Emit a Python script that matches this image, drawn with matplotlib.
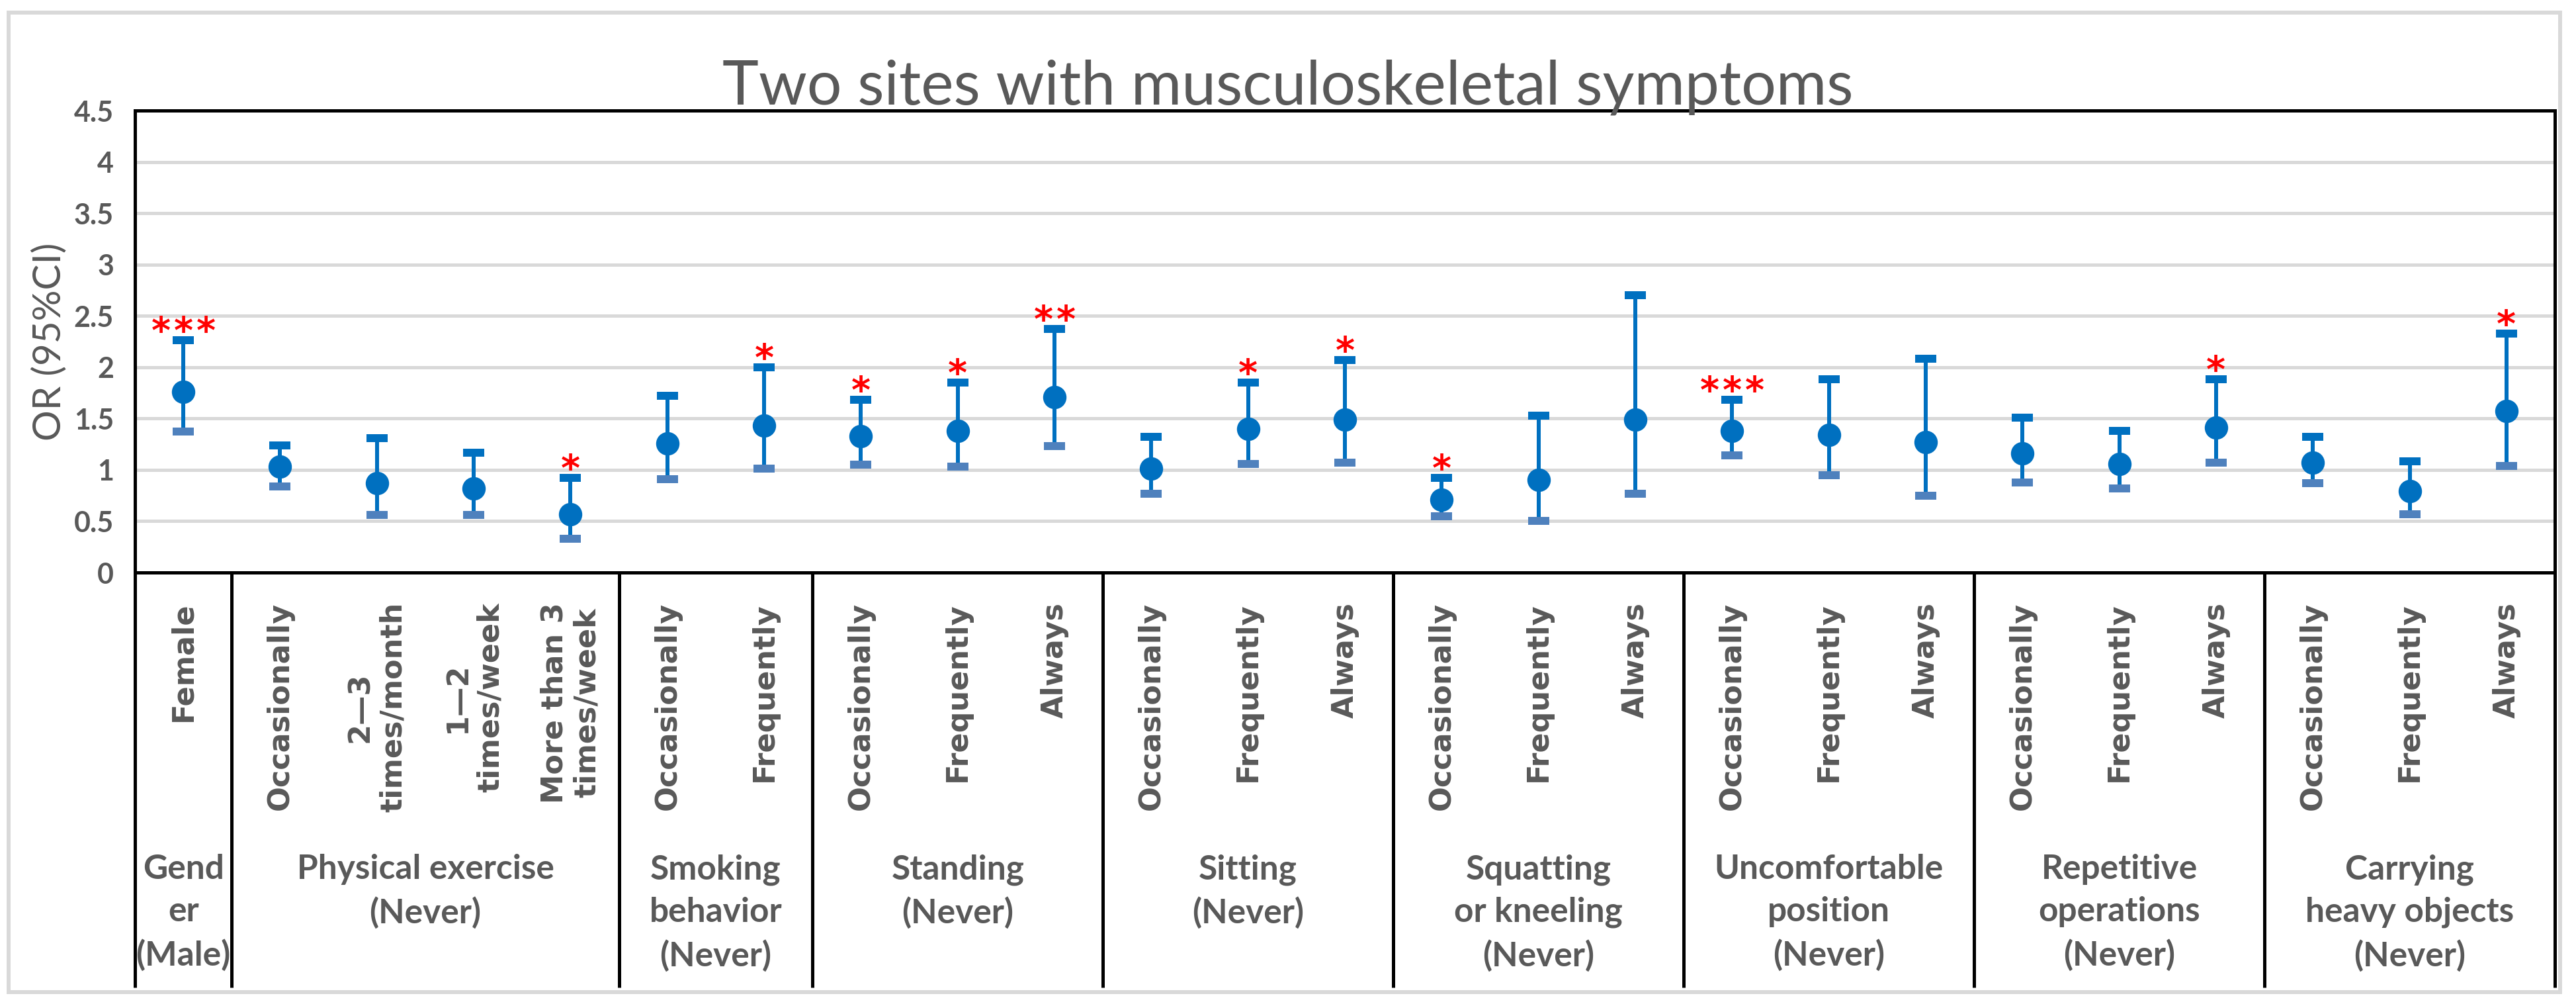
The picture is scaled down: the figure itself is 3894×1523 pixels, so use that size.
import numpy as np
import matplotlib
matplotlib.use("Agg")
import matplotlib.pyplot as plt
from matplotlib.patches import Rectangle
from matplotlib.ticker import FuncFormatter

# --- data ---
categories = ["Female",
              "Occasionally", "2—3\ntimes/month", "1—2\ntimes/week", "More than 3\ntimes/week",
              "Occasionally", "Frequently",
              "Occasionally", "Frequently", "Always",
              "Occasionally", "Frequently", "Always",
              "Occasionally", "Frequently", "Always",
              "Occasionally", "Frequently", "Always",
              "Occasionally", "Frequently", "Always",
              "Occasionally", "Frequently", "Always"]

groups = ["Gend\ner\n(Male)", "Physical exercise\n(Never)", "Smoking\nbehavior\n(Never)",
          "Standing\n(Never)", "Sitting\n(Never)", "Squatting\nor kneeling\n(Never)",
          "Uncomfortable\nposition\n(Never)", "Repetitive\noperations\n(Never)",
          "Carrying\nheavy objects\n(Never)"]
group_sizes = [1, 4, 2, 3, 3, 3, 3, 3, 3]

odds_ratio = [1.76, 1.03, 0.87, 0.82, 0.57, 1.26, 1.43, 1.33, 1.38, 1.71, 1.01, 1.40, 1.49,
              0.71, 0.90, 1.49, 1.38, 1.34, 1.27, 1.16, 1.06, 1.41, 1.07, 0.79, 1.57]
ci_upper = [2.26, 1.24, 1.31, 1.17, 0.92, 1.72, 2.00, 1.68, 1.85, 2.37, 1.32, 1.85, 2.07,
            0.92, 1.53, 2.70, 1.68, 1.88, 2.08, 1.51, 1.38, 1.88, 1.32, 1.08, 2.33]
ci_lower = [1.37, 0.84, 0.56, 0.56, 0.33, 0.91, 1.01, 1.05, 1.03, 1.23, 0.77, 1.06, 1.07,
            0.55, 0.50, 0.77, 1.14, 0.95, 0.75, 0.88, 0.82, 1.07, 0.87, 0.57, 1.04]
signif = ["***", "", "", "", "*", "", "*", "*", "*", "**", "", "*", "*",
          "*", "", "", "***", "", "", "", "", "*", "", "", "*"]

y_ticks = [0, 0.5, 1, 1.5, 2, 2.5, 3, 3.5, 4, 4.5]

# --- style ---
BLUE = "#0070C0"
BLUE_LOW = "#4F81BD"
GRAY_TXT = "#595959"
GRID = "#D9D9D9"
PX = 0.72  # points per pixel at dpi 100
W, H = 3894, 1523

fig = plt.figure(figsize=(W / 100, H / 100), dpi=100)
ax = fig.add_axes([204 / W, 1 - 865 / H, 3658 / W, 698 / H])

x = np.arange(len(categories)) + 0.5
orr = np.array(odds_ratio)
up = np.array(ci_upper)
lo = np.array(ci_lower)

ax.errorbar(x, orr, yerr=[orr - lo, up - orr], fmt="o", ms=34 * PX, color=BLUE,
            elinewidth=6 * PX, capsize=0, zorder=3)
cap = [(-1, -0.397), (1, -0.397), (1, 0.397), (-1, 0.397), (-1, -0.397)]
ax.plot(x, up, ls="none", marker=cap, ms=32 * PX, mew=0, color=BLUE, zorder=4)
ax.plot(x, lo, ls="none", marker=cap, ms=32 * PX, mew=0, color=BLUE_LOW, zorder=4)

# significance stars
for xi, yi, s in zip(x, up, signif):
    n = len(s)
    for j, ch in enumerate(s):
        ax.annotate(ch, (xi, yi), xytext=((j - (n - 1) / 2) * 34 * PX, -4 * PX),
                    textcoords="offset points", ha="center", va="baseline",
                    color="red", fontsize=40, fontweight="bold", family="DejaVu Sans",
                    zorder=5)

ax.set_xlim(0, len(categories))
ax.set_ylim(0, 4.5)
ax.set_yticks(y_ticks)
ax.yaxis.set_major_formatter(FuncFormatter(lambda v, p: "%g" % v))
ax.set_xticks([])
ax.tick_params(axis="y", length=0, pad=32 * PX, labelsize=31, labelcolor=GRAY_TXT)
for lab in ax.get_yticklabels():
    lab.set_fontweight("bold")
    lab.set_family("Lato")
ax.yaxis.grid(True, color=GRID, lw=5 * PX, zorder=0)
ax.set_axisbelow(True)
for sp in ax.spines.values():
    sp.set_color("black")
    sp.set_linewidth(5 * PX)

# category labels (rotated)
tr = ax.get_xaxis_transform()
for xi, c in zip(x, categories):
    ax.annotate(c, (xi, 0), xycoords=tr, xytext=(0, -45 * PX), textcoords="offset points",
                rotation=90, ha="center", va="top", multialignment="center",
                fontsize=32, fontweight="bold", family="DejaVu Sans", color=GRAY_TXT,
                annotation_clip=False)

# group separators and labels
edges = np.concatenate([[0], np.cumsum(group_sizes)])
y_end = -(1492 - 865) / 698
for e in edges:
    ax.plot([e, e], [0, y_end], transform=tr, color="black", lw=5 * PX, clip_on=False,
            solid_capstyle="butt")
for g, a, b in zip(groups, edges[:-1], edges[1:]):
    ax.annotate(g, ((a + b) / 2, 0), xycoords=tr, xytext=(0, -(1290 - 865) * PX),
                textcoords="offset points", ha="center", va="top", multialignment="center",
                fontsize=37, fontweight="bold", family="Lato", color=GRAY_TXT,
                linespacing=1.45, annotation_clip=False)

# title, y label, outer border
fig.text(0.5, 1 - 158 / H, "Two sites with musculoskeletal symptoms", ha="center",
         va="baseline", fontsize=67, family="Lato", color=GRAY_TXT)
fig.text(75 / W, 1 - 516 / H, "OR (95%CI)", rotation=90, ha="center", va="center",
         fontsize=42, family="Lato", color=GRAY_TXT)
fig.patches.append(Rectangle((13 / W, 1 - 1499 / H), (3870 - 13) / W, (1499 - 19) / H,
                             transform=fig.transFigure, fill=False, edgecolor=GRID,
                             lw=6 * PX))

fig.savefig("out.png", dpi=100, facecolor="white")
